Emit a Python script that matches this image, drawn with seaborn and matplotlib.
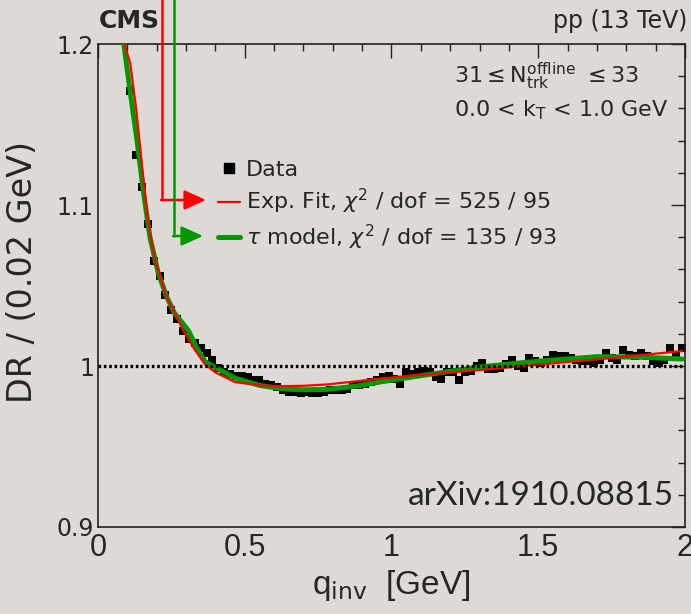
import pandas as pd
import seaborn as sns
import matplotlib
import matplotlib.pyplot as plt
from matplotlib.lines import Line2D
from matplotlib.ticker import MultipleLocator, FuncFormatter

matplotlib.use("Agg")

# ─── values ───────────────────────────────────────────────────────
Q_BINS = [0.11, 0.13, 0.15, 0.17, 0.19, 0.21, 0.23, 0.25, 0.27, 0.29,
          0.31, 0.33, 0.35, 0.37, 0.39, 0.41, 0.43, 0.45, 0.47, 0.49,
          0.51, 0.53, 0.55, 0.57, 0.59, 0.61, 0.63, 0.65, 0.67, 0.69,
          0.71, 0.73, 0.75, 0.77, 0.79, 0.81, 0.83, 0.85, 0.87, 0.89,
          0.91, 0.93, 0.95, 0.97, 0.99, 1.01, 1.03, 1.05, 1.07, 1.09,
          1.11, 1.13, 1.15, 1.17, 1.19, 1.21, 1.23, 1.25, 1.27, 1.29,
          1.31, 1.33, 1.35, 1.37, 1.39, 1.41, 1.43, 1.45, 1.47, 1.49,
          1.51, 1.53, 1.55, 1.57, 1.59, 1.61, 1.63, 1.65, 1.67, 1.69,
          1.71, 1.73, 1.75, 1.77, 1.79, 1.81, 1.83, 1.85, 1.87, 1.89,
          1.91, 1.93, 1.95, 1.97, 1.99]
DR_DATA = [1.171, 1.131, 1.111, 1.088, 1.065, 1.056, 1.044, 1.035, 1.029, 1.022,
           1.017, 1.014, 1.011, 1.008, 1.004, 0.999, 0.996, 0.995, 0.994, 0.994,
           0.993, 0.991, 0.991, 0.989, 0.988, 0.987, 0.985, 0.984, 0.984, 0.983,
           0.984, 0.983, 0.983, 0.984, 0.985, 0.985, 0.985, 0.986, 0.988, 0.988,
           0.989, 0.990, 0.991, 0.993, 0.994, 0.992, 0.989, 0.996, 0.995, 0.996,
           0.997, 0.996, 0.993, 0.992, 0.996, 0.996, 0.991, 0.996, 0.997, 1.000,
           1.002, 0.998, 0.998, 0.999, 1.001, 1.004, 1.000, 0.999, 1.005, 1.003,
           1.002, 1.004, 1.007, 1.006, 1.006, 1.005, 1.004, 1.003, 1.003, 1.002,
           1.004, 1.008, 1.005, 1.004, 1.010, 1.007, 1.006, 1.008, 1.006, 1.003,
           1.002, 1.004, 1.011, 1.006, 1.011]

EXP_Q = [0.090, 0.110, 0.130, 0.150, 0.170, 0.194, 0.234, 0.291, 0.330, 0.365,
         0.400, 0.467, 0.550, 0.626, 0.700, 0.784, 0.880, 0.966, 1.100, 1.300,
         1.500, 1.750, 1.990]
EXP_DR = [1.200, 1.188, 1.160, 1.125, 1.090, 1.066, 1.043, 1.022, 1.010, 1.001,
          0.996, 0.990, 0.988, 0.9875, 0.9877, 0.9886, 0.9905, 0.9923, 0.9945, 0.9975,
          1.0008, 1.0050, 1.0093]

TAU_Q = [0.088, 0.110, 0.133, 0.155, 0.177, 0.205, 0.234, 0.260, 0.308, 0.340,
         0.365, 0.467, 0.550, 0.626, 0.700, 0.784, 0.880, 0.966, 1.100, 1.300,
         1.500, 1.700, 1.850, 1.990]
TAU_DR = [1.200, 1.170, 1.140, 1.108, 1.080, 1.058, 1.043, 1.033, 1.022, 1.010,
          1.0027, 0.9925, 0.9880, 0.9858, 0.9852, 0.9855, 0.9875, 0.9902, 0.9940, 0.9994,
          1.0030, 1.0058, 1.0055, 1.0043]

LEGEND_LABELS = ["Data",
                 r"Exp. Fit, $\chi^{2}$ / dof = 525 / 95",
                 r"$\tau$ model, $\chi^{2}$ / dof = 135 / 93"]

# ─── style ────────────────────────────────────────────────────────
BG    = "#dddad5"
RED   = "#ff0000"
GREEN = "#009a00"

sns.set_theme(style="white")
plt.rcParams.update({
    "font.family": ["DejaVu Sans"],
    "mathtext.fontset": "dejavusans",
    "axes.edgecolor": "#222222",
    "axes.linewidth": 1.2,
    "figure.facecolor": BG,
    "axes.facecolor": BG,
    "savefig.facecolor": BG,
})
TALL = ["Liberation Sans", "DejaVu Sans"]

df_data = pd.DataFrame({"q": Q_BINS, "DR": DR_DATA})
df_exp  = pd.DataFrame({"q": EXP_Q, "DR": EXP_DR})
df_tau  = pd.DataFrame({"q": TAU_Q, "DR": TAU_DR})

fig = plt.figure(figsize=(6.91, 6.14), dpi=100)
ax = fig.add_axes([0.1418, 0.1417, 0.8495, 0.7866])

sns.scatterplot(data=df_data, x="q", y="DR", marker="s", s=40, color="black",
                linewidth=0, ax=ax, zorder=2, legend=False)
sns.lineplot(data=df_tau, x="q", y="DR", color=GREEN, lw=3.6, sort=False,
             ax=ax, zorder=3, legend=False)
sns.lineplot(data=df_exp, x="q", y="DR", color=RED, lw=1.6, sort=False,
             ax=ax, zorder=4, legend=False)
ax.axhline(1.0, color="black", lw=2.4, ls=(0, (0.8, 0.8)), zorder=5)

ax.set_xlim(0, 2)
ax.set_ylim(0.9, 1.2)
ax.xaxis.set_major_locator(MultipleLocator(0.5))
ax.xaxis.set_minor_locator(MultipleLocator(0.1))
ax.yaxis.set_major_locator(MultipleLocator(0.1))
ax.yaxis.set_minor_locator(MultipleLocator(0.02))
fmt = FuncFormatter(lambda v, _: f"{v:g}")
ax.xaxis.set_major_formatter(fmt)
ax.yaxis.set_major_formatter(fmt)
ax.tick_params(which="both", direction="in", top=True, right=True,
               color="#222222", width=1.0)
ax.tick_params(which="major", length=10)
ax.tick_params(which="minor", length=5)
ax.tick_params(axis="y", labelsize=17, pad=3)
ax.tick_params(axis="x", labelsize=22, pad=4)
for lab in ax.get_xticklabels():
    lab.set_family(TALL)

ax.set_xlabel(r"q$_{\mathrm{inv}}$  [GeV]", fontsize=24, family=TALL)
ax.xaxis.set_label_coords(0.5, -0.085)
ax.set_ylabel("DR / (0.02 GeV)", fontsize=24)
ax.yaxis.set_label_coords(-0.1005, 0.528)

# legend
handles = [Line2D([0], [0], marker="s", ls="none", color="black", markersize=7),
           Line2D([0], [0], color=RED, lw=1.6),
           Line2D([0], [0], color=GREEN, lw=3.6)]
ax.legend(handles, LEGEND_LABELS, loc="upper left", bbox_to_anchor=(0.315, 0.739),
          bbox_transform=fig.transFigure, frameon=False, fontsize=16,
          handlelength=1.0, handletextpad=0.27, labelspacing=0.3,
          borderpad=0, borderaxespad=0)

# arrows pointing at the legend entries (figure pixels, origin bottom-left)
H = 614
for x0, y0, x1, col in [(162, 200, 206, RED), (174, 236, 203, GREEN)]:
    fig.add_artist(Line2D([x0 / 691, x0 / 691], [1.0, (H - y0) / H],
                          color=col, lw=1.8, transform=fig.transFigure))
    ax.annotate("", xy=(x1, H - y0), xytext=(x0 - 1, H - y0),
                xycoords="figure pixels", textcoords="figure pixels",
                arrowprops=dict(arrowstyle="-|>,head_length=1.1,head_width=0.5",
                                mutation_scale=12, color=col, lw=1.8,
                                shrinkA=0, shrinkB=0))

# header texts
fig.text(99 / 691, (H - 21) / H, "CMS", fontsize=18, fontweight="bold",
         ha="left", va="center")
fig.text(687 / 691, (H - 21) / H, "pp (13 TeV)", fontsize=17,
         ha="right", va="center")
ax.text(0.607, 0.932, r"31$\leq$N$_{\mathrm{trk}}^{\mathrm{offline}}$ $\leq$33",
        transform=ax.transAxes, fontsize=16, ha="left", va="center")
ax.text(0.607, 0.863, r"0.0 < k$_{\mathrm{T}}$ < 1.0 GeV",
        transform=ax.transAxes, fontsize=16, ha="left", va="center")
ax.text(0.982, 0.065, "arXiv:1910.08815", transform=ax.transAxes,
        fontsize=24, family=["Lato", "DejaVu Sans"], ha="right", va="center")

fig.savefig("out.png", dpi=100)
print("wrote out.png")
